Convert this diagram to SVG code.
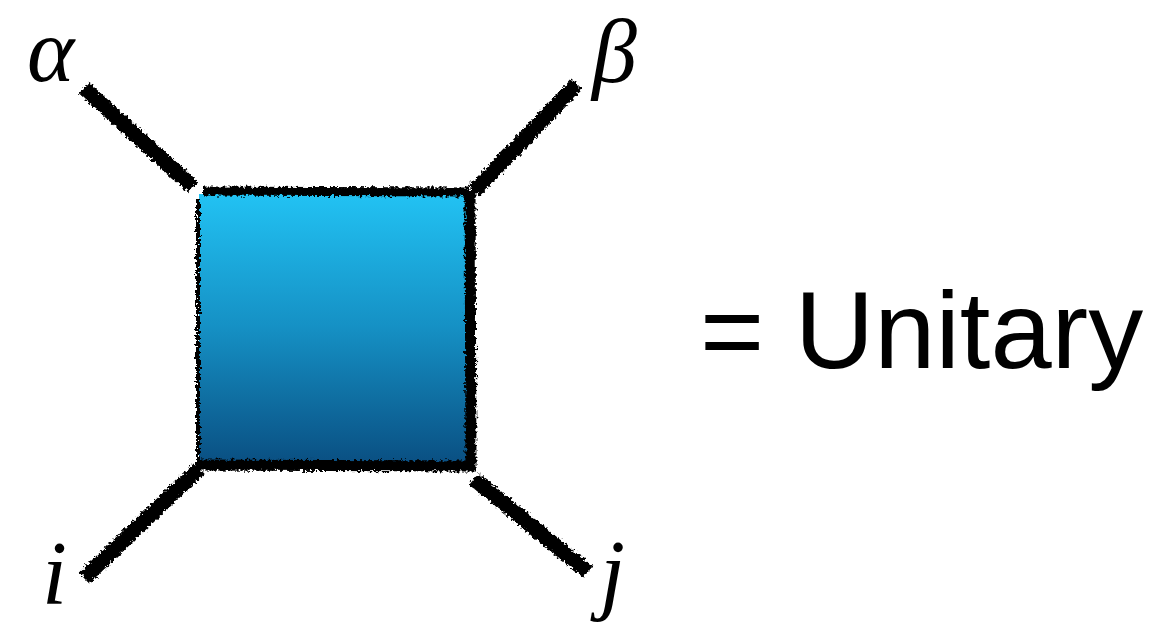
<svg xmlns="http://www.w3.org/2000/svg" width="1162" height="629" viewBox="0 0 1162 629">
  <defs>
    <linearGradient id="blueGrad" x1="0" y1="0" x2="0" y2="1">
      <stop offset="0" stop-color="#22c2f3"/>
      <stop offset="0.5" stop-color="#1590c4"/>
      <stop offset="1" stop-color="#0a5083"/>
    </linearGradient>
    <filter id="rough" filterUnits="userSpaceOnUse" x="0" y="0" width="1162" height="629">
      <feTurbulence type="fractalNoise" baseFrequency="0.35" numOctaves="2" seed="3" result="n"/>
      <feDisplacementMap in="SourceGraphic" in2="n" scale="7" xChannelSelector="R" yChannelSelector="G"/>
    </filter>
  </defs>
  <style>
    .leg { stroke: #000; stroke-width: 15; stroke-linecap: butt; fill: none; filter: url(#rough); }
    .edge { stroke: #000; fill: none; filter: url(#rough); }
    .greek { font-family: "Liberation Serif", "DejaVu Serif", serif; font-style: italic; font-size: 90px; fill: #000; }
    .eq { font-family: "Liberation Sans", Arial, sans-serif; font-size: 110px; fill: #000; }
  </style>

  <g id="connectors">
    <line class="leg" x1="84" y1="88" x2="193" y2="187"/>
    <line class="leg" x1="577" y1="84" x2="474" y2="191"/>
    <line class="leg" x1="84" y1="578" x2="199" y2="469"/>
    <line class="leg" x1="474" y1="479" x2="588" y2="572"/>
  </g>

  <g id="unitary-box">
    <rect x="199" y="194" width="270" height="268" fill="url(#blueGrad)"/>
    <path class="edge" stroke-width="9" d="M203 191 L470 192"/>
    <path class="edge" stroke-width="11" d="M470 190 L471 468"/>
    <path class="edge" stroke-width="11" d="M198 465 L476 466"/>
    <path class="edge" stroke-width="4" d="M198 198 L198 466"/>
  </g>

  <g id="label-alpha"><text class="greek" x="27" y="81">α</text></g>
  <g id="label-beta"><text class="greek" x="592" y="82">β</text></g>
  <g id="label-i"><text class="greek" x="42" y="604">i</text></g>
  <g id="label-j"><text class="greek" x="600" y="603">j</text></g>

  <g id="equation"><text class="eq" x="700" y="368">= Unitary</text></g>
</svg>
